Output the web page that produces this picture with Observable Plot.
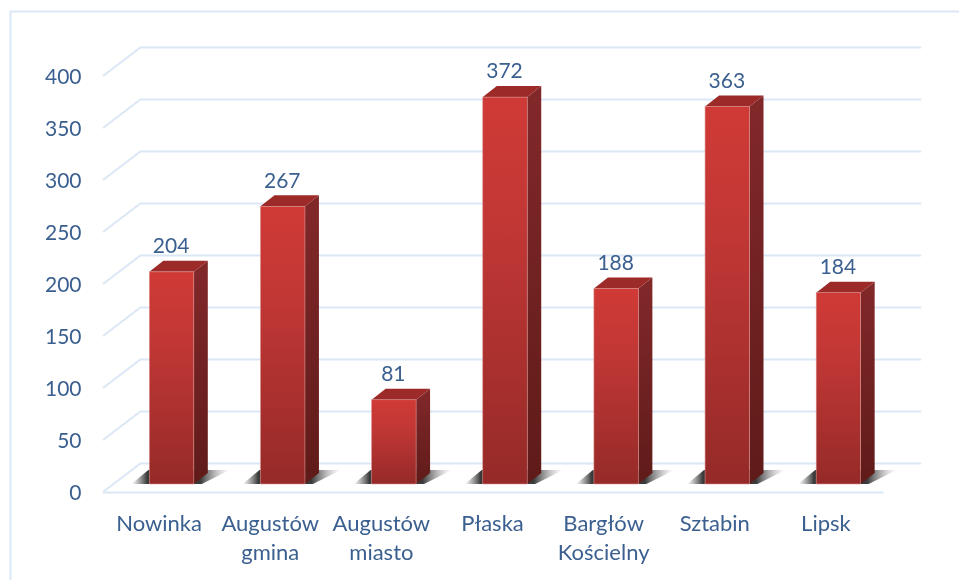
<!DOCTYPE html>
<html><head><meta charset="utf-8">
<style>html,body{margin:0;padding:0;background:#fff}svg{display:block;filter:blur(0.45px)}</style>
<script src="https://cdn.jsdelivr.net/npm/d3@7"></script>
<script src="https://cdn.jsdelivr.net/npm/@observablehq/plot@0.6"></script>
</head><body><div id="chart"></div>
<script>
const categories = ["Nowinka","Augustów\ngmina","Augustów\nmiasto","Płaska","Bargłów\nKościelny","Sztabin","Lipsk"];
const values = [204,267,81,372,188,363,184];
const yTicks = [0,50,100,150,200,250,300,350,400];
const slots = categories.map((_, i) => i + 0.5);

const inkColor = "#3b6090", gridColor = "#dce7f6";
const wallDx = 38, wallDy = -29, barDx = 13, barDy = -8, sideDx = 14, sideDy = -11, half = 0.2;

const defs = () => {
  const g = d3.create("svg:g");
  const d = g.append("defs");
  const grad = (id, stops, horizontal) => {
    const l = d.append("linearGradient").attr("id", id).attr("x1", 0).attr("y1", 0)
      .attr("x2", horizontal ? 1 : 0).attr("y2", horizontal ? 0 : 1);
    stops.forEach(([o, c, a]) => l.append("stop").attr("offset", o).attr("stop-color", c).attr("stop-opacity", a ?? 1));
  };
  grad("front", [[0,"#d03a36"],[0.35,"#c03735"],[1,"#952a28"]]);
  grad("side", [[0,"#82282a"],[1,"#5f1b19"]]);
  grad("shadow", [[0,"#666",0],[0.16,"#3a3a3a",1],[0.7,"#3a3a3a",1],[1,"#aaa",0]], true);
  return g.node();
};

const frame = (_, s, __, dims) => {
  const g = d3.create("svg:g").attr("fill", "none").attr("stroke", gridColor).attr("stroke-width", 2);
  g.append("path").attr("d", `M10.5,${dims.height}V11.5H${dims.width}`);
  return g.node();
};

const sideWall = (_, {x, y}) => {
  const g = d3.create("svg:g").attr("stroke", gridColor).attr("stroke-width", 2).attr("fill", "none");
  yTicks.forEach(v => g.append("line")
    .attr("x1", x(0)).attr("y1", y(v)).attr("x2", x(0) + wallDx).attr("y2", y(v) + wallDy));
  return g.node();
};

const solids = (_, {x, y}) => {
  const g = d3.create("svg:g");
  values.forEach((v, i) => {
    const x0 = x(slots[i] - half) + barDx, x1 = x(slots[i] + half) + barDx;
    const yb = y(0) + barDy, yt = y(v) + barDy;
    const poly = (pts, fill) => g.append("polygon").attr("points", pts.map(p => p.join(",")).join(" ")).attr("fill", fill);
    poly([[x0 - 18, yb], [x0 - 1, yb - 14], [x1 + 36, yb - 14], [x1 + 8, yb]], "url(#shadow)");
    poly([[x1, yb], [x1 + sideDx, yb + sideDy], [x1 + sideDx, yt + sideDy], [x1, yt]], "url(#side)");
    poly([[x0, yt], [x0 + sideDx, yt + sideDy], [x1 + sideDx, yt + sideDy], [x1, yt]], "#9b2a28");
  });
  return g.node();
};

const chart = Plot.plot({
  width: 959, height: 580,
  marginLeft: 103, marginRight: 78, marginTop: 76, marginBottom: 88,
  style: {background: "#fff", fontFamily: "Lato, sans-serif"},
  x: {domain: [0, 7]},
  y: {domain: [0, 400]},
  marks: [
    defs,
    frame,
    Plot.ruleY(yTicks, {y: d => d, x1: 0, x2: 7.02, dx: wallDx, dy: wallDy, stroke: gridColor, strokeWidth: 2}),
    sideWall,
    Plot.ruleY([0], {x1: 0, x2: 7.02, stroke: gridColor, strokeWidth: 2}),
    solids,
    Plot.rectY(values, {
      x1: (_, i) => slots[i] - half, x2: (_, i) => slots[i] + half,
      y1: 0, y2: d => d, dx: barDx, dy: barDy,
      fill: "url(#front)", stroke: "#d9908c", strokeWidth: 0.6
    }),
    Plot.text(values, {
      x: (_, i) => slots[i], y: d => d, text: d => String(d),
      dx: barDx - 1, dy: -34, fill: inkColor, fontSize: 21
    }),
    Plot.axisY({
      ticks: yTicks, tickSize: 0, tickPadding: 22, label: null, anchor: "left",
      fill: inkColor, fontSize: 21, dy: 1, tickFormat: d => String(d)
    }),
    Plot.axisX({
      ticks: slots, tickSize: 0, tickPadding: 18, label: null, anchor: "bottom",
      fill: inkColor, fontSize: 22, lineHeight: 1.32,
      tickFormat: d => categories[d - 0.5]
    })
  ]
});
document.getElementById("chart").appendChild(chart);
</script></body></html>
